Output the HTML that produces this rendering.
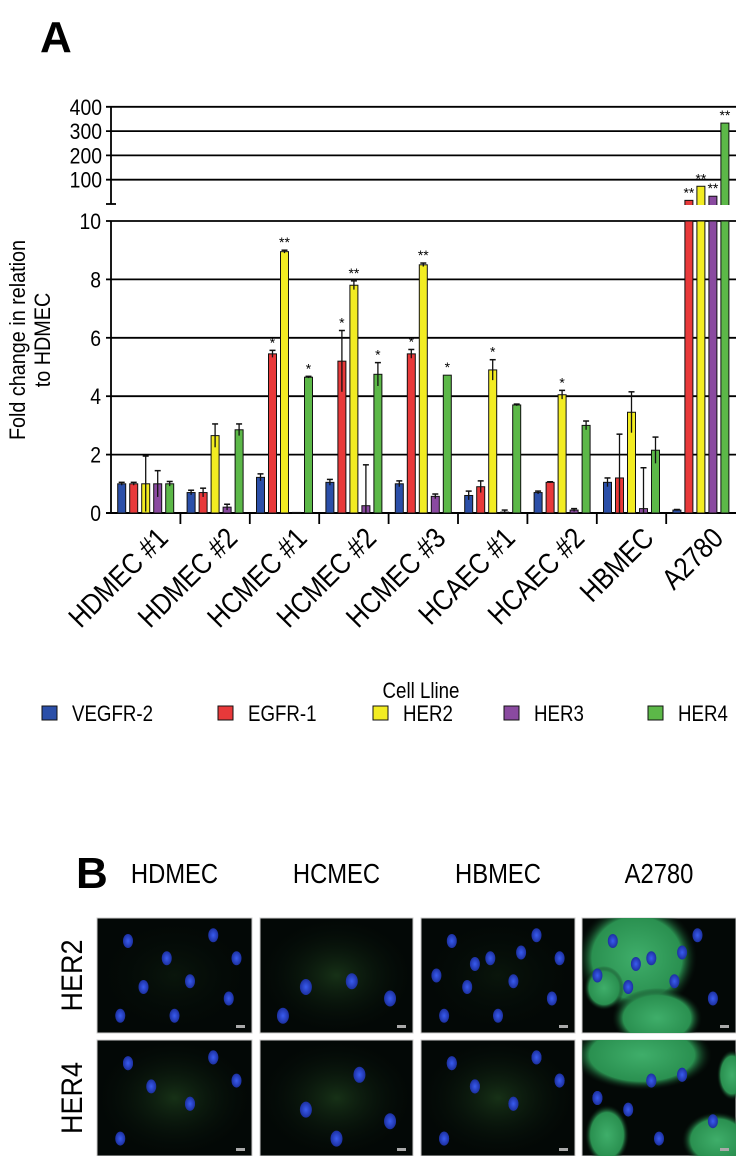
<!DOCTYPE html>
<html><head><meta charset="utf-8"><style>
body{margin:0;background:#fff;width:736px;height:1156px;overflow:hidden;font-family:"Liberation Sans",sans-serif}
svg text{font-family:"Liberation Sans",sans-serif}
</style></head><body>
<svg id="chart" width="736" height="1156" viewBox="0 0 736 1156">
<text x="40" y="52" font-size="44" font-weight="bold">A</text>
<g id="gA"></g>
<text x="76" y="888" font-size="44" font-weight="bold">B</text>
<g id="gB"></g>
</svg>
<script>
const categories=["HDMEC #1","HDMEC #2","HCMEC #1","HCMEC #2","HCMEC #3","HCAEC #1","HCAEC #2","HBMEC","A2780"];
const seriesNames=["VEGFR-2","EGFR-1","HER2","HER3","HER4"];
const seriesColors=["#2b4fa8","#e8393a","#f2ec22","#8a4aa0","#5cb848"];
const vegfr2=[1.0,0.7,1.22,1.05,1.0,0.6,0.7,1.05,0.1];
const egfr1=[1.0,0.7,5.45,5.2,5.45,0.9,1.05,1.2,15];
const her2=[1.0,2.65,8.95,7.8,8.5,4.9,4.05,3.45,73];
const her3=[1.0,0.2,0.02,0.25,0.57,0.03,0.1,0.15,32];
const her4=[1.0,2.85,4.65,4.75,4.72,3.7,3.0,2.15,333];
const errVegfr2=[0.05,0.08,0.12,0.1,0.1,0.15,0.05,0.15,0.02];
const errEgfr1=[0.05,0.15,0.12,1.05,0.15,0.2,0.02,1.5,0];
const errHer2=[0.95,0.4,0.05,0.15,0.06,0.35,0.15,0.7,0];
const errHer3=[0.45,0.1,0,1.4,0.08,0.07,0.05,1.4,0];
const errHer4=[0.08,0.2,0.03,0.4,0,0.03,0.15,0.45,0];
const sigVegfr2=["","","","","","","","",""];
const sigEgfr1=["","","*","*","*","","","","**"];
const sigHer2=["","","**","**","**","*","*","","**"];
const sigHer3=["","","","","","","","","**"];
const sigHer4=["","","*","*","*","","","","**"];
const lowTicks=[0,2,4,6,8,10];
const highTicks=[100,200,300,400];
const series=[vegfr2,egfr1,her2,her3,her4];
const errs=[errVegfr2,errEgfr1,errHer2,errHer3,errHer4];
const sigs=[sigVegfr2,sigEgfr1,sigHer2,sigHer3,sigHer4];

const NS="http://www.w3.org/2000/svg";
function mk(p,t,a,txt){const e=document.createElementNS(NS,t);for(const k in a)e.setAttribute(k,a[k]);if(txt!==undefined)e.textContent=txt;p.appendChild(e);return e;}
const g=document.getElementById('gA');
const X0=111,XR=736,PITCH=69.4;
const yLow=v=>513-v*29.2;
const yHigh=v=>204-v*0.243;
const groupX=i=>X0+PITCH*(i+0.5);
const barX=(i,s)=>groupX(i)+(s-2)*12;

lowTicks.forEach(t=>{
  if(t>0){const l=mk(g,'line',{x1:X0,x2:XR,y1:yLow(t),y2:yLow(t),stroke:'#000','stroke-width':1.8});
  
  }
  const tx=mk(g,'text',{x:X0-10,y:yLow(t)+8,'font-size':22,'text-anchor':'end',transform:`translate(${(X0-10)*0.12} 0) scale(0.88 1)`},String(t));
  
  
  mk(g,'line',{x1:X0-5,x2:X0,y1:yLow(t),y2:yLow(t),stroke:'#000','stroke-width':1.8});
});
highTicks.forEach(t=>{
  const l=mk(g,'line',{x1:X0-5,x2:XR,y1:yHigh(t),y2:yHigh(t),stroke:'#000','stroke-width':1.8});
  
  
  const tx=mk(g,'text',{x:X0-9,y:yHigh(t)+8,'font-size':22,'text-anchor':'end',transform:`translate(${(X0-9)*0.12} 0) scale(0.88 1)`},String(t));
  
  
});
mk(g,'line',{x1:X0,x2:X0,y1:yLow(0),y2:yLow(10),stroke:'#000','stroke-width':1.8});
mk(g,'line',{x1:X0,x2:X0,y1:yHigh(400),y2:yHigh(0),stroke:'#000','stroke-width':1.8});
mk(g,'line',{x1:X0-5,x2:X0+5,y1:yHigh(0),y2:yHigh(0),stroke:'#000','stroke-width':1.8});
mk(g,'line',{x1:X0-5,x2:XR,y1:yLow(0),y2:yLow(0),stroke:'#000','stroke-width':2});
for(let i=1;i<categories.length;i++){mk(g,'line',{x1:X0+PITCH*i,x2:X0+PITCH*i,y1:yLow(0),y2:yLow(0)+11,stroke:'#000','stroke-width':1.8});}

categories.forEach((c,i)=>{
  series.forEach((arr,s)=>{
    const v=arr[i],x=barX(i,s)-4,w=8,col=seriesColors[s];
    let topY;
    if(v<=10){
      const r=mk(g,'rect',{x:x,y:yLow(v),width:w,height:yLow(0)-yLow(v),fill:col,stroke:'#111','stroke-width':1});
      
      
      topY=yLow(v);
      const e=errs[s][i];
      if(e>0){const ye=yLow(v+e);
        mk(g,'line',{x1:x+4,x2:x+4,y1:ye,y2:Math.min(yLow(0),yLow(v-e)),stroke:'#111','stroke-width':1.3});
        mk(g,'line',{x1:x+1,x2:x+7,y1:ye,y2:ye,stroke:'#111','stroke-width':1.5});
        topY=ye;}
    }else{
      const r=mk(g,'rect',{x:x,y:yLow(10),width:w,height:yLow(0)-yLow(10),fill:col,stroke:'#111','stroke-width':1});
      
      
      const r2=mk(g,'rect',{x:x,y:yHigh(v),width:w,height:yHigh(0)-yHigh(v)+4,fill:col,stroke:'#111','stroke-width':1});
      
      
      mk(g,'rect',{x:x-1,y:yHigh(0)+1,width:w+2,height:yLow(10)-yHigh(0)-2,fill:'#fff'});
      topY=yHigh(v);
    }
    if(sigs[s][i]){const t=mk(g,'text',{x:x+4,y:topY-3,'font-size':14,'text-anchor':'middle'},sigs[s][i]);
      
      }
  });
  const lx=groupX(i)+24,ly=540;
  const t=mk(g,'text',{x:0,y:0,'font-size':29,'text-anchor':'end',transform:`translate(${lx} ${ly}) rotate(-45) scale(0.86 1)`},c);
  
  
});
let t=mk(g,'text',{x:0,y:0,'font-size':22,'text-anchor':'middle',transform:'translate(25 340) rotate(-90) scale(0.9 1)'},'Fold change in relation');

t=mk(g,'text',{x:0,y:0,'font-size':22,'text-anchor':'middle',transform:'translate(50 340) rotate(-90) scale(0.9 1)'},'to HDMEC');

t=mk(g,'text',{x:0,y:0,'font-size':22,'text-anchor':'middle',transform:'translate(421 698) scale(0.85 1)'},'Cell Lline');

const legX=[42,218,373,504,648];
seriesNames.forEach((n,s)=>{
  const r=mk(g,'rect',{x:legX[s],y:706,width:15,height:14,fill:seriesColors[s],stroke:'#111','stroke-width':1});
  
  
  const tt=mk(g,'text',{x:0,y:0,'font-size':22,transform:`translate(${legX[s]+30} 721) scale(0.85 1)`},n);
  
  
});

const gB=document.getElementById('gB');
const cols=["HDMEC","HCMEC","HBMEC","A2780"],colX=[97,260,421,582],colW=[155,153,154,154];
const rows=["HER2","HER4"],rowY=[918,1040],rowH=[115,116];
const defs=mk(gB,'defs',{});
const gr=mk(defs,'radialGradient',{id:'nuc'});mk(gr,'stop',{offset:'0','stop-color':'#3a5cf0'});mk(gr,'stop',{offset:'1','stop-color':'#1c30a0'});
const gg=mk(defs,'radialGradient',{id:'glow'});mk(gg,'stop',{offset:'0','stop-color':'#3a7a34','stop-opacity':'0.6'});mk(gg,'stop',{offset:'1','stop-color':'#0a1a10','stop-opacity':'0'});
const gs=mk(defs,'radialGradient',{id:'strong'});mk(gs,'stop',{offset:'0','stop-color':'#3fae6a'});mk(gs,'stop',{offset:'0.75','stop-color':'#2a9050'});mk(gs,'stop',{offset:'1','stop-color':'#0a1a10','stop-opacity':'0'});
cols.forEach((c,ci)=>{
  const h=mk(gB,'text',{x:0,y:0,'font-size':28,'text-anchor':'middle',transform:`translate(${colX[ci]+colW[ci]/2} 883) scale(0.85 1)`},c);
  
  rows.forEach((r,ri)=>{
    const x=colX[ci],y=rowY[ri],w=colW[ci],hh=rowH[ri];
    const im=mk(gB,'rect',{x:x,y:y,width:w,height:hh,fill:'#030806',stroke:'#ccc','stroke-width':1});
    
    
    const cp='cp'+ci+ri;const cl=mk(defs,'clipPath',{id:cp});mk(cl,'rect',{x:x,y:y,width:w,height:hh});
    const sub=mk(gB,'g',{'clip-path':`url(#${cp})`});
    if(ci===3){
      if(ri===0){
        mk(sub,'ellipse',{cx:x+55,cy:y+40,rx:60,ry:55,fill:'url(#strong)'});
        mk(sub,'ellipse',{cx:x+75,cy:y+100,rx:45,ry:30,fill:'url(#strong)'});
        mk(sub,'ellipse',{cx:x+22,cy:y+70,rx:20,ry:22,fill:'url(#strong)'});
      }else{
        mk(sub,'ellipse',{cx:x+60,cy:y+15,rx:70,ry:35,fill:'url(#strong)'});
        mk(sub,'ellipse',{cx:x+25,cy:y+95,rx:22,ry:30,fill:'url(#strong)'});
        mk(sub,'ellipse',{cx:x+135,cy:y+100,rx:35,ry:28,fill:'url(#strong)'});
        mk(sub,'ellipse',{cx:x+150,cy:y+35,rx:15,ry:25,fill:'url(#strong)'});
      }
    }else{
      mk(sub,'rect',{x:x,y:y,width:w,height:hh,fill:'url(#glow)',opacity:(ci===1||ri===1)?0.6:0.2});
    }
    const pts=[[0.2,0.2],[0.45,0.35],[0.75,0.15],[0.3,0.6],[0.6,0.55],[0.85,0.7],[0.15,0.85],[0.5,0.85],[0.9,0.35],[0.65,0.3],[0.35,0.4],[0.1,0.5]];
    const n=ci===1?4:(ci===2?12:9);
    for(let k=0;k<n;k++){const p=pts[(k*(ri+1)+ci*3)%pts.length];
      mk(sub,'ellipse',{cx:x+p[0]*w,cy:y+p[1]*hh,rx:ci===1?6:5,ry:ci===1?8:7,fill:'url(#nuc)'});}
    mk(gB,'rect',{x:x+w-16,y:y+hh-8,width:9,height:3,fill:'#aaa'});
  });
});
rows.forEach((r,ri)=>{
  const cy=rowY[ri]+rowH[ri]/2;
  const t=mk(gB,'text',{x:0,y:0,'font-size':30,'text-anchor':'middle',transform:`translate(82 ${cy}) rotate(-90) scale(0.9 1)`},r);
  
});
</script>
</body></html>
